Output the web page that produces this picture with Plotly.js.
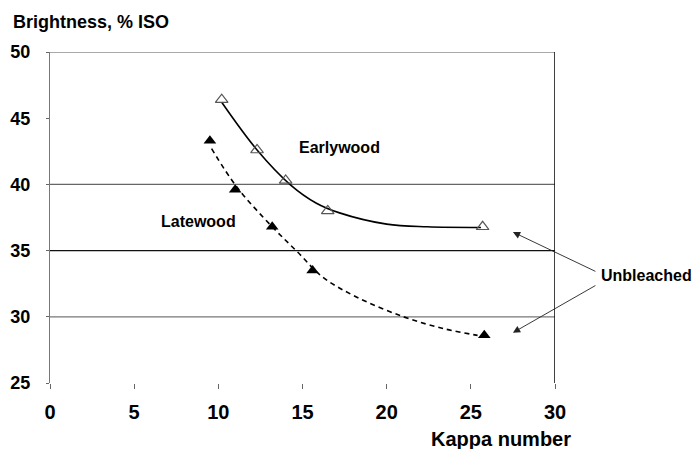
<!DOCTYPE html>
<html>
<head>
<meta charset="utf-8">
<script src="https://cdn.plot.ly/plotly-3.0.1.min.js"></script>
<style>html,body{margin:0;padding:0;background:#fff;}#chart{width:699px;height:449px;}</style>
</head>
<body>
<div id="chart"></div>
<script>
// Measured points
const earlyKappa = [10.2, 12.3, 14.0, 16.5, 25.7];
const earlyBright = [46.4, 42.6, 40.3, 38.0, 36.8];
const lateKappa = [9.5, 11.0, 13.2, 15.6, 25.8];
const lateBright = [43.3, 39.6, 36.8, 33.5, 28.6];

// Trend curves
const earlyCurveKappa = [10.2, 12.3, 14.3, 15.8, 17.2, 20.0, 22.4, 25.6];
const earlyCurveBright = [46.2, 42.6, 39.95, 38.6, 37.85, 37.0, 36.8, 36.75];
const lateCurveKappa = [9.6, 11.1, 13.2, 14.7, 16.2, 18.2, 21.0, 23.4, 25.4];
const lateCurveBright = [42.7, 39.8, 36.8, 34.9, 33.0, 31.5, 30.0, 29.1, 28.6];

// Axis ticks
const xTicks = [0, 5, 10, 15, 20, 25, 30];
const yTicks = [25, 30, 35, 40, 45, 50];
const gridLevels = [50, 40, 35, 30];
const gridColors = ['#555', '#666', '#111', '#777'];

// Unbleached arrow targets
const unbleachedKappa = [27.5, 27.5];
const unbleachedBright = [36.4, 28.8];

const font = 'Liberation Sans, Arial, sans-serif';

const traces = [
  {x: earlyCurveKappa, y: earlyCurveBright, mode: 'lines', line: {color: '#000', width: 1.6, shape: 'spline'}, hoverinfo: 'skip'},
  {x: lateCurveKappa, y: lateCurveBright, mode: 'lines', line: {color: '#000', width: 1.6, dash: '5px,4px', shape: 'spline'}, hoverinfo: 'skip'},
  {x: earlyKappa, y: earlyBright, mode: 'markers', marker: {symbol: 'triangle-up-open', size: 11, color: '#555', line: {width: 1.2, color: '#555'}}},
  {x: lateKappa, y: lateBright, mode: 'markers', marker: {symbol: 'triangle-up', size: 11, color: '#000'}}
];

const shapes = gridLevels.map((g, i) => ({
  type: 'line', xref: 'x', yref: 'y', x0: 0, x1: 30, y0: g, y1: g,
  line: {color: gridColors[i], width: 1.2}, layer: 'below'
}));
shapes.push({type: 'line', xref: 'x', yref: 'y', x0: 30, x1: 30, y0: 25, y1: 50, line: {color: '#111', width: 1.6}});

const annotations = [
  {x: 17.2, y: 42.8, xref: 'x', yref: 'y', text: 'Earlywood', showarrow: false, font: {family: font, size: 16, color: '#000', weight: 'bold'}},
  {x: 8.8, y: 37.2, xref: 'x', yref: 'y', text: 'Latewood', showarrow: false, font: {family: font, size: 16, color: '#000', weight: 'bold'}},
  {x: unbleachedKappa[0], y: unbleachedBright[0], xref: 'x', yref: 'y', text: '', showarrow: true, arrowhead: 2, arrowsize: 1.6, arrowwidth: 0.9, arrowcolor: '#222', ax: 84, ay: 40},
  {x: unbleachedKappa[1], y: unbleachedBright[1], xref: 'x', yref: 'y', text: '', showarrow: true, arrowhead: 2, arrowsize: 1.6, arrowwidth: 0.9, arrowcolor: '#222', ax: 84, ay: -48},
  {x: 1.087, y: 0.326, xref: 'paper', yref: 'paper', xanchor: 'left', yanchor: 'middle', text: 'Unbleached', showarrow: false, font: {family: font, size: 16, color: '#000', weight: 'bold'}},
  {x: -0.077, y: 1.09, xref: 'paper', yref: 'paper', xanchor: 'left', yanchor: 'middle', text: 'Brightness, % ISO', showarrow: false, font: {family: font, size: 18, color: '#000', weight: 'bold'}},
  {x: 0.893, y: -0.169, xref: 'paper', yref: 'paper', xanchor: 'center', yanchor: 'middle', text: 'Kappa number', showarrow: false, font: {family: font, size: 20, color: '#000', weight: 'bold'}}
];

const layout = {
  width: 699, height: 449,
  margin: {l: 50, r: 144, t: 52, b: 66},
  paper_bgcolor: '#fff', plot_bgcolor: '#fff',
  showlegend: false,
  xaxis: {
    range: [0, 30], tickvals: xTicks, ticktext: xTicks.map(String),
    showgrid: false, zeroline: false, showline: false,
    ticks: 'outside', ticklen: 5, tickcolor: '#666', tickwidth: 1,
    ticklabelstandoff: 6,
    tickfont: {family: font, size: 20, color: '#000', weight: 'bold'},
    fixedrange: true
  },
  yaxis: {
    range: [25, 50], tickvals: yTicks, ticktext: yTicks.map(String),
    showgrid: false, zeroline: false, showline: true, linecolor: '#777', linewidth: 1.2,
    ticks: 'outside', ticklen: 3, tickcolor: '#666',
    ticklabelstandoff: 12,
    tickfont: {family: font, size: 18, color: '#000', weight: 'bold'},
    fixedrange: true
  },
  shapes: shapes,
  annotations: annotations
};

Plotly.newPlot('chart', traces, layout, {displayModeBar: false, staticPlot: true});
</script>
</body>
</html>
